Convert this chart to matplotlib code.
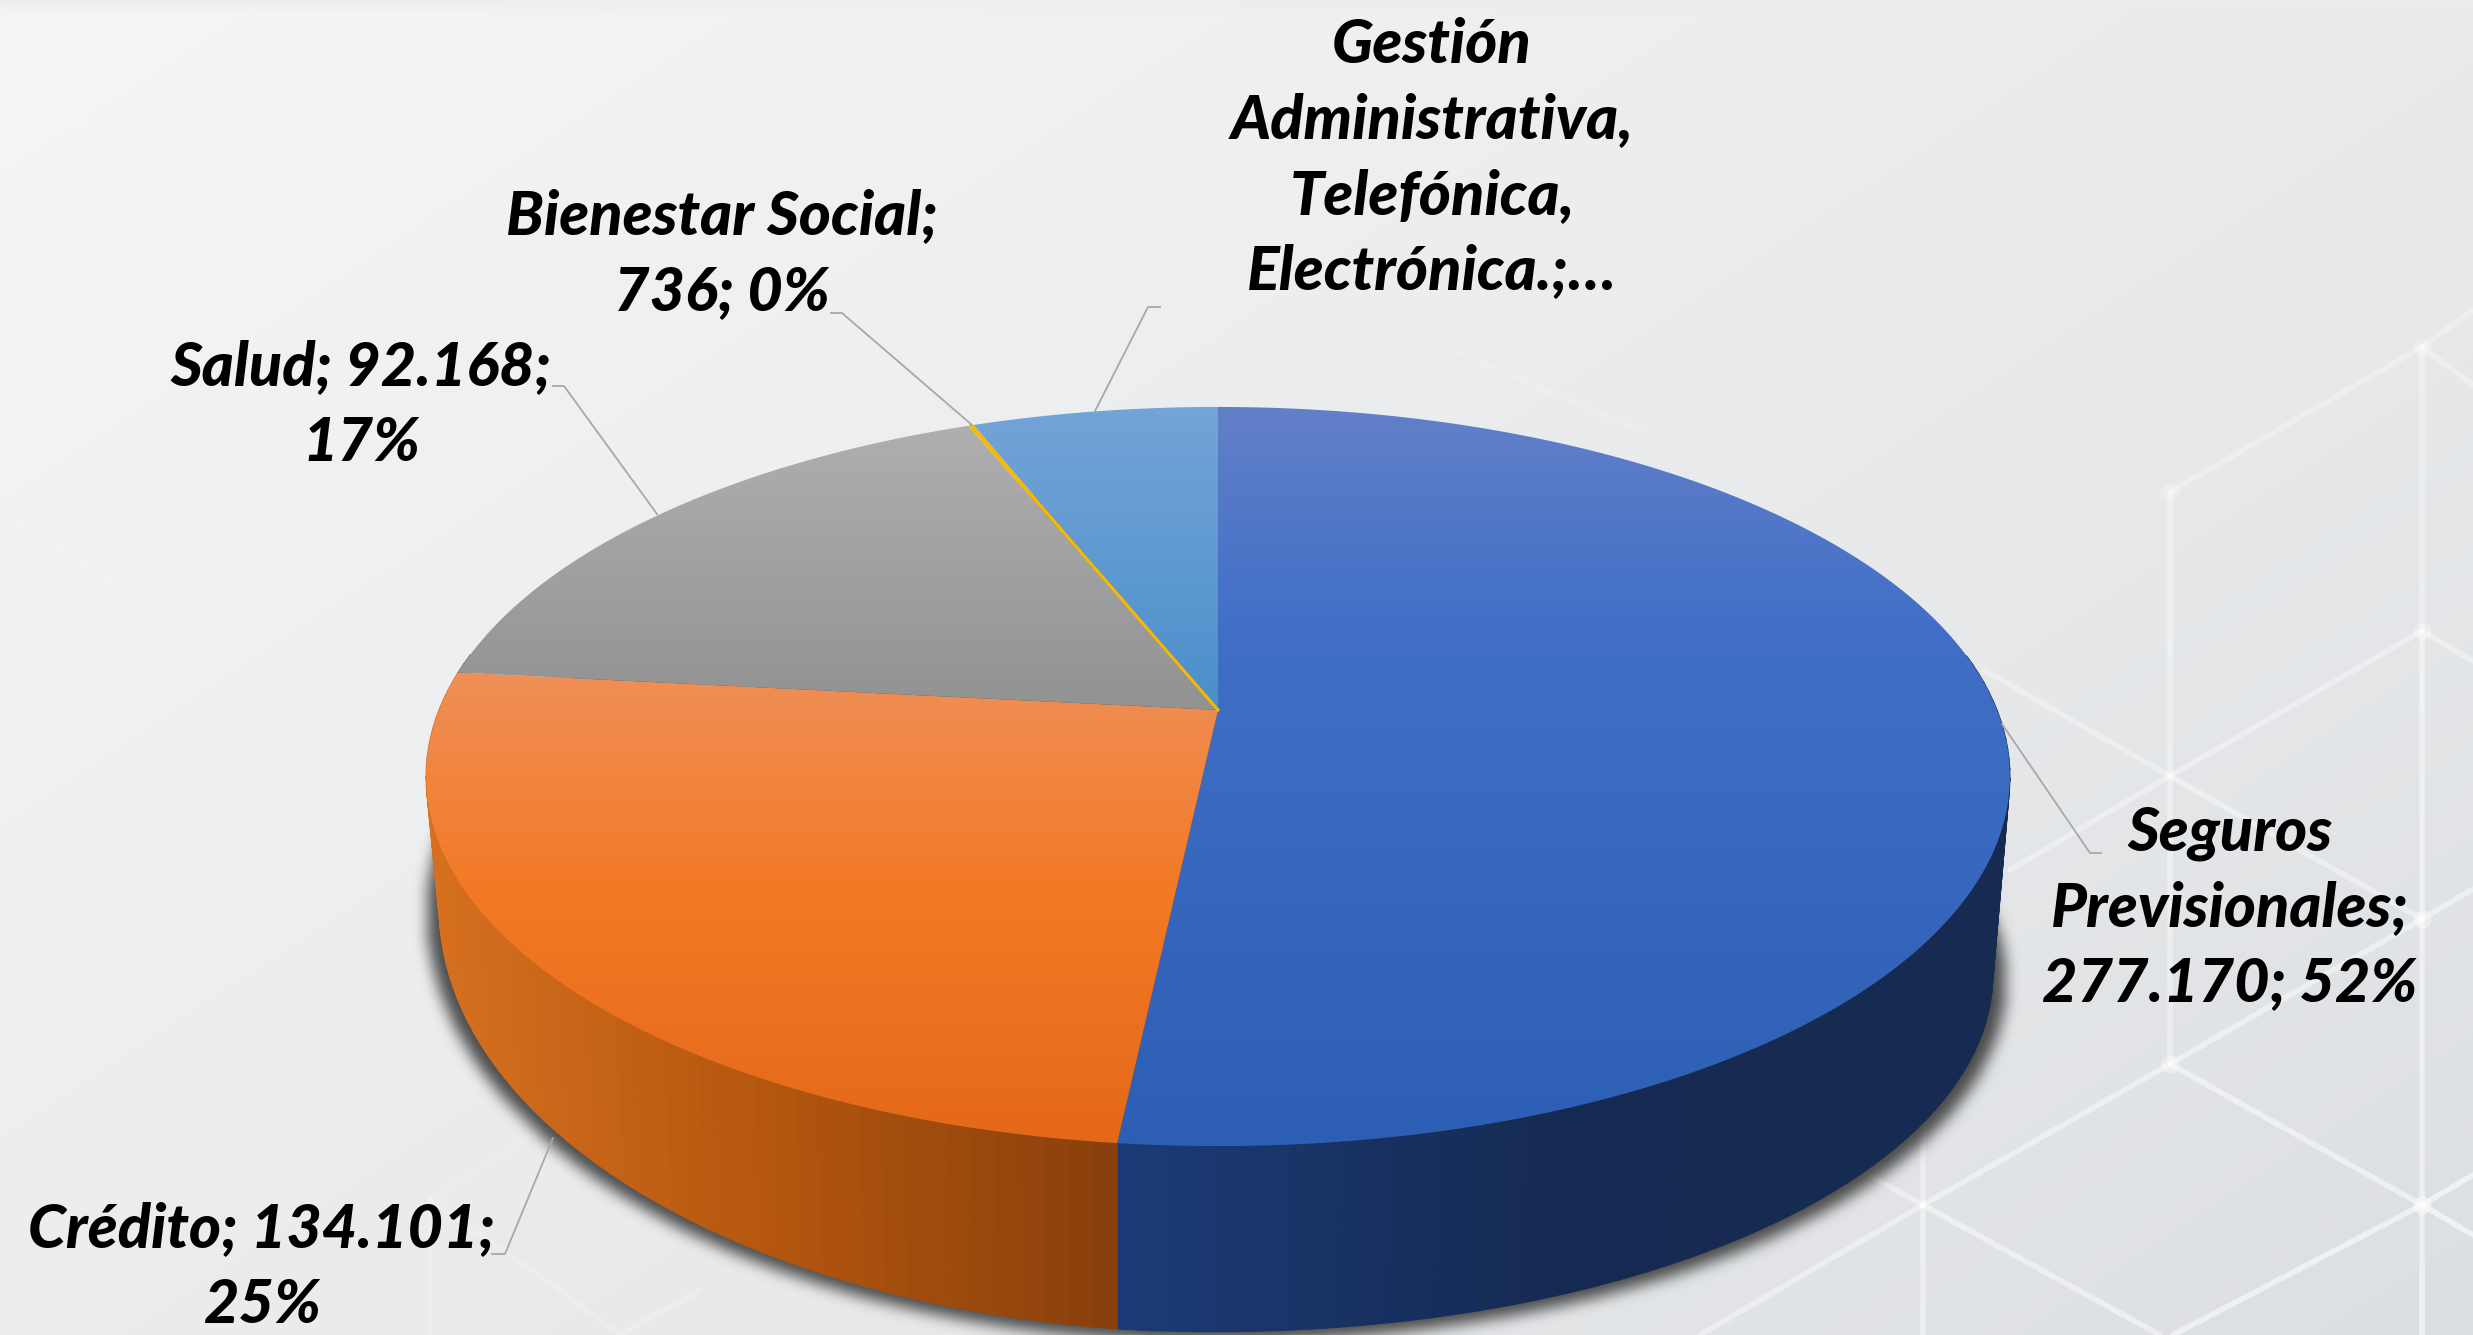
import numpy as np
import matplotlib
matplotlib.use("Agg")
import matplotlib.pyplot as plt
from matplotlib.patches import Polygon
from matplotlib.path import Path
from matplotlib.collections import PolyCollection
from matplotlib.colors import LinearSegmentedColormap, to_rgb

# ---------- data ----------
categories = ["Seguros Previsionales", "Crédito", "Salud", "Bienestar Social",
              "Gestión Administrativa, Telefónica, Electrónica."]
values = [277170, 134101, 92168, 736, 32000]
labels = ["Seguros\nPrevisionales;\n277.170; 52%",
          "Crédito; 134.101;\n25%",
          "Salud; 92.168;\n17%",
          "Bienestar Social;\n736; 0%",
          "Gestión\nAdministrativa,\nTelefónica,\nElectrónica.;…"]

# ---------- style / layout ----------
W, H = 2473, 1335
top_stops = [
    [(0.0, "#6280c8"), (0.3, "#416fc7"), (1.0, "#2c5fb4")],
    [(0.0, "#ef8f57"), (0.45, "#f37a27"), (1.0, "#e46818")],
    [(0.0, "#afafaf"), (1.0, "#929292")],
    [(0.0, "#ffc000"), (1.0, "#f0b000")],
    [(0.0, "#74a4d8"), (1.0, "#4a8fcb")],
]
side_stops = [
    [(0.0, "#1b3a75"), (0.5, "#152a52"), (1.0, "#172b52")],
    [(0.0, "#d6701f"), (0.5, "#b4560f"), (1.0, "#8a400c")],
    [(0.0, "#6a6a6a"), (1.0, "#6a6a6a")],
    [(0.0, "#8a6a00"), (1.0, "#8a6a00")],
    [(0.0, "#2a5a85"), (1.0, "#2a5a85")],
]
TOP = dict(x0=1218, y0=710, a=779, b=357.6, k=0.18)
BOT = dict(x0=1216, y0=911, a=764, b=345.0, k=0.18)
label_pos = [(2230, 908), (262, 1267), (361, 405), (722, 254), (1432, 158)]
leaders = [
    [(2002, 724), (2090, 853), (2101, 853)],
    [(553, 1138), (505, 1254), (492, 1254)],
    [(657, 514), (564, 386), (553, 386)],
    [(972, 425), (842, 313), (831, 313)],
    [(1095, 411), (1148, 307), (1160, 307)],
]
hex_lines = [
    ((2422, 347), (2170, 492)), ((2170, 492), (2170, 1064)), ((2422, 347), (2422, 631)),
    ((2422, 631), (2170, 776)), ((2170, 776), (2422, 919)), ((2422, 631), (2422, 1335)),
    ((2170, 776), (1984, 670)), ((2170, 776), (2010, 870)), ((2422, 347), (2473, 310)),
    ((2422, 347), (2473, 385)), ((2422, 631), (2473, 661)), ((2422, 919), (2473, 889)),
    ((2170, 1064), (2422, 1205)), ((2170, 1064), (1923, 1205)), ((2422, 1205), (2173, 1335)),
    ((1923, 1205), (1923, 1335)), ((1923, 1205), (1923, 1100)), ((1923, 1205), (2160, 1335)),
    ((2422, 1205), (2473, 1175)), ((1923, 1205), (1700, 1335)), ((2422, 1205), (2473, 1235)),
    ((2422, 919), (2170, 1064)), ((1923, 1205), (1860, 1170)),
    ((430, 1335), (430, 1200)), ((430, 1200), (540, 1130)), ((430, 1200), (560, 1290)),
    ((560, 1290), (620, 1335)), ((620, 1335), (700, 1290)),
    ((0, 79), (250, 212)), ((250, 212), (612, 12)), ((250, 212), (250, 400)),
    ((1440, 345), (1640, 430)), ((0, 510), (200, 640)),
]
hex_nodes = [(2422, 631), (2170, 1064), (2422, 347), (2422, 919), (2170, 492), (2422, 1205)]


def project(theta, p):
    u, v = np.sin(theta), np.cos(theta)
    den = 1 + p["k"] * v
    return p["x0"] + p["a"] * u / den, p["y0"] - p["b"] * v / den


def project_bottom(theta):
    # the lower rim of the reference sits higher on its left half
    x, y = project(theta, BOT)
    y = np.where(x < BOT["x0"] - 60, 905 + (y - 973) / 356 * 424, y)
    return x, y


def grad_fill(ax, poly, stops, z):
    xs, ys = poly[:, 0], poly[:, 1]
    x0, x1, y0, y1 = xs.min(), xs.max(), ys.min(), ys.max()
    cmap = LinearSegmentedColormap.from_list("g", stops)
    arr = np.linspace(0, 1, 256)[:, None]
    im = ax.imshow(arr, cmap=cmap, vmin=0, vmax=1, extent=(x0, x1, y1, y0), origin="upper",
                   aspect="auto", zorder=z, interpolation="bilinear")
    patch = Polygon(poly, closed=True, transform=ax.transData, fc="none", ec="none")
    ax.add_patch(patch)
    im.set_clip_path(patch)


def box_blur(a, r):
    kern = np.ones(2 * r + 1) / (2 * r + 1)
    for _ in range(3):
        a = np.apply_along_axis(lambda m: np.convolve(m, kern, mode="same"), 0, a)
        a = np.apply_along_axis(lambda m: np.convolve(m, kern, mode="same"), 1, a)
    return a


plt.rcParams["font.family"] = ["Lato", "DejaVu Sans"]
fig = plt.figure(figsize=(W / 100, H / 100), dpi=100)
ax = fig.add_axes([0, 0, 1, 1])
ax.axis("off")

# background
yy, xx = np.mgrid[0:H:4, 0:W:4]
bg = 0.55 * xx / W + 0.45 * yy / H
cm_bg = LinearSegmentedColormap.from_list("bg", ["#f4f5f6", "#eeeff1", "#e6e8ea", "#dcdfe2"])
ax.imshow(bg, cmap=cm_bg, vmin=0, vmax=1, extent=(0, W, H, 0), aspect="auto", zorder=0)
ax.imshow(np.linspace(1, 0, 20)[:, None], cmap=LinearSegmentedColormap.from_list(
    "t", [(0.93, 0.93, 0.94, 0), (0.93, 0.93, 0.94, 0.9)]), extent=(0, W, 14, 0), aspect="auto", zorder=0.5)
for (p, q) in hex_lines:
    t = 0.6 * (p[0] + q[0]) / 2 / W + 0.4 * (p[1] + q[1]) / 2 / H
    alpha = max(0.10, 0.62 * t ** 2)
    ax.plot([p[0], q[0]], [p[1], q[1]], color="white", lw=4, alpha=alpha, zorder=1,
            solid_capstyle="round")
for n in hex_nodes:
    t = 0.6 * n[0] / W + 0.4 * n[1] / H
    ax.plot(*n, "o", color="white", ms=13, alpha=0.5 * t ** 2, mec="none", zorder=1)

# slices
vals = np.asarray(values, dtype=float)
edges = np.concatenate([[0], np.cumsum(vals)]) / vals.sum() * 2 * np.pi

# shadow, from the lower rim
th_all = np.linspace(0, 2 * np.pi, 721)
bx_all, by_all = project_bottom(th_all)
rim = np.column_stack([1216 + (bx_all - 1216) * 1.017, 950 + (by_all - 950) * 1.01 + 6])
gy, gx = np.mgrid[0:H + 60:2, 0:W:2]
mask = Path(rim).contains_points(np.column_stack([gx.ravel(), gy.ravel()])).reshape(gx.shape).astype(float)
blur = box_blur(mask, 3)
rgba = np.zeros(blur.shape + (4,))
rgba[..., :3] = to_rgb("#3a3a3a")
rgba[..., 3] = blur * 0.9
ax.imshow(rgba, extent=(0, W, H + 60, 0), aspect="auto", zorder=2, interpolation="bilinear")

# side walls as many thin facets shaded from left to right
for i in range(len(vals)):
    n = max(2, int((edges[i + 1] - edges[i]) / (2 * np.pi) * 240))
    th = np.linspace(edges[i], edges[i + 1], n + 1)
    tx, ty = project(th, TOP)
    bx, by = project_bottom(th)
    quads = [[(tx[j], ty[j]), (tx[j + 1], ty[j + 1]), (bx[j + 1], by[j + 1]), (bx[j], by[j])]
             for j in range(n)]
    cmap = LinearSegmentedColormap.from_list("s", side_stops[i])
    xm = (tx[:-1] + tx[1:]) / 2
    front = np.cos((th[:-1] + th[1:]) / 2) < 0.15
    if front.any():
        lo, hi = xm[front].min(), xm[front].max()
    else:
        lo, hi = xm.min(), xm.max() + 1
    cols = cmap(np.clip((xm - lo) / max(hi - lo, 1), 0, 1))
    keep = [q for q, f in zip(quads, front) if f]
    if keep:
        ax.add_collection(PolyCollection(keep, facecolors=cols[front], edgecolors=cols[front],
                                         linewidths=0.8, zorder=3))

# top faces
for i in range(len(vals)):
    th = np.linspace(edges[i], edges[i + 1], 300)
    tx, ty = project(th, TOP)
    poly = np.column_stack([np.r_[TOP["x0"], tx], np.r_[TOP["y0"], ty]])
    grad_fill(ax, poly, top_stops[i], 4 + i * 0.01)
    if vals[i] / vals.sum() < 0.01:
        ax.plot(poly[[0, len(poly) // 2], 0], poly[[0, len(poly) // 2], 1], color="#f7b800", lw=2.2, zorder=4.5)

# leaders and labels
for pts, txt, pos in zip(leaders, labels, label_pos):
    pts = np.array(pts)
    ax.plot(pts[:, 0], pts[:, 1], color="#a8a8a8", lw=1.3, zorder=5)
    ax.text(pos[0], pos[1], txt, ha="center", va="center", fontsize=44, fontweight=900,
            fontstyle="italic", color="black", linespacing=1.42, zorder=6, clip_on=True)

ax.set_xlim(0, W)
ax.set_ylim(H, 0)
fig.savefig("out.png", dpi=100)
